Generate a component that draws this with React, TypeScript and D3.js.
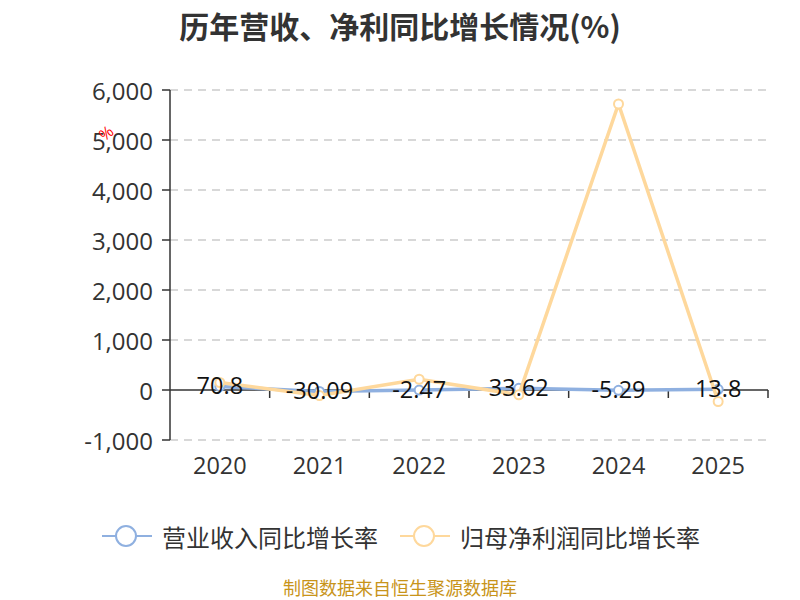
import React from "react";
import * as d3 from "d3";

const years = ["2020", "2021", "2022", "2023", "2024", "2025"];
const revenueGrowth = [70.8, -30.09, -2.47, 33.62, -5.29, 13.8];
const profitGrowth = [150, -110, 215, -95, 5720, -230];
const yTicks = [-1000, 0, 1000, 2000, 3000, 4000, 5000, 6000];
const seriesNames = ["营业收入同比增长率", "归母净利润同比增长率"];

const BLUE = "#8fb0e0";
const ORANGE = "#fed89c";
const CJK = "'Noto Sans CJK SC', sans-serif";
const NUM = "'Open Sans', 'Noto Sans', sans-serif";

export default function App() {
  const W = 800, H = 600;
  const left = 170, right = 768, top = 90, bottom = 440;
  const x = d3.scaleBand<string>().domain(years).range([left, right]);
  const y = d3.scaleLinear().domain([-1000, 6000]).range([bottom, top]);
  const cx = (d: string) => (x(d) as number) + x.bandwidth() / 2;
  const line = d3.line<number>().x((_, i) => cx(years[i])).y((v) => y(v));
  const fmt = (v: number) => d3.format(",")(v).replace("\u2212", "-");
  const y0 = y(0);

  return (
    <svg width={W} height={H} style={{ position: "absolute", left: 0, top: 0 }}>
      <rect width={W} height={H} fill="#fff" />
      <text x={400} y={25} textAnchor="middle" dominantBaseline="central" fontSize={30} fontWeight="bold" fill="#333" fontFamily={CJK}>
        历年营收、净利同比增长情况(%)
      </text>
      {yTicks.map((t) => (
        <g key={t}>
          {t !== 0 && (
            <line x1={left} x2={right} y1={y(t)} y2={y(t)} stroke="#ccc" strokeWidth={1.5} strokeDasharray="8,6" />
          )}
          <line x1={left - 8} x2={left} y1={y(t)} y2={y(t)} stroke="#333" strokeWidth={1.5} />
          <text x={left - 17} y={y(t)} textAnchor="end" dominantBaseline="central" fontSize={24} fill="#333" fontFamily={NUM}>
            {fmt(t)}
          </text>
        </g>
      ))}
      <line x1={left} x2={left} y1={top} y2={bottom} stroke="#333" strokeWidth={1.5} />
      <line x1={left} x2={right} y1={y0} y2={y0} stroke="#333" strokeWidth={1.5} />
      {years.map((d) => (
        <line key={d} x1={(x(d) as number) + x.bandwidth()} x2={(x(d) as number) + x.bandwidth()} y1={y0} y2={y0 + 8} stroke="#333" strokeWidth={1.5} />
      ))}
      {years.map((d) => (
        <text key={d} x={cx(d)} y={465} textAnchor="middle" dominantBaseline="central" fontSize={23.5} fill="#333" fontFamily={NUM}>
          {d}
        </text>
      ))}
      <text x={106} y={133} fontSize={16} fill="red" textAnchor="middle" dominantBaseline="central" fontFamily={NUM} transform="rotate(-40,106,133)">%</text>
      <path d={line(revenueGrowth) || ""} fill="none" stroke={BLUE} strokeWidth={3.5} />
      {revenueGrowth.map((v, i) => (
        <circle key={i} cx={cx(years[i])} cy={y(v)} r={4.5} fill="#fff" stroke={BLUE} strokeWidth={2} />
      ))}
      <path d={line(profitGrowth) || ""} fill="none" stroke={ORANGE} strokeWidth={3.5} />
      {profitGrowth.map((v, i) => (
        <circle key={i} cx={cx(years[i])} cy={y(v)} r={4.5} fill="#fff" stroke={ORANGE} strokeWidth={2} />
      ))}
      {revenueGrowth.map((v, i) => (
        <text key={i} x={cx(years[i])} y={y(v) - 1.5} textAnchor="middle" dominantBaseline="central" fontSize={23.5} fill="#111" fontFamily={NUM}>
          {v}
        </text>
      ))}
      <g fontFamily={CJK}>
        <line x1={102} x2={152} y1={536} y2={536} stroke={BLUE} strokeWidth={2} />
        <circle cx={126} cy={536} r={10} fill="#fff" stroke={BLUE} strokeWidth={2} />
        <text x={162} y={536} dominantBaseline="central" fontSize={24} fill="#333">{seriesNames[0]}</text>
        <line x1={400} x2={450} y1={536} y2={536} stroke={ORANGE} strokeWidth={2} />
        <circle cx={424} cy={536} r={10} fill="#fff" stroke={ORANGE} strokeWidth={2} />
        <text x={460} y={536} dominantBaseline="central" fontSize={24} fill="#333">{seriesNames[1]}</text>
      </g>
      <text x={400} y={587} textAnchor="middle" dominantBaseline="central" fontSize={18} fill="#c8941a" fontFamily={CJK}>
        制图数据来自恒生聚源数据库
      </text>
    </svg>
  );
}
